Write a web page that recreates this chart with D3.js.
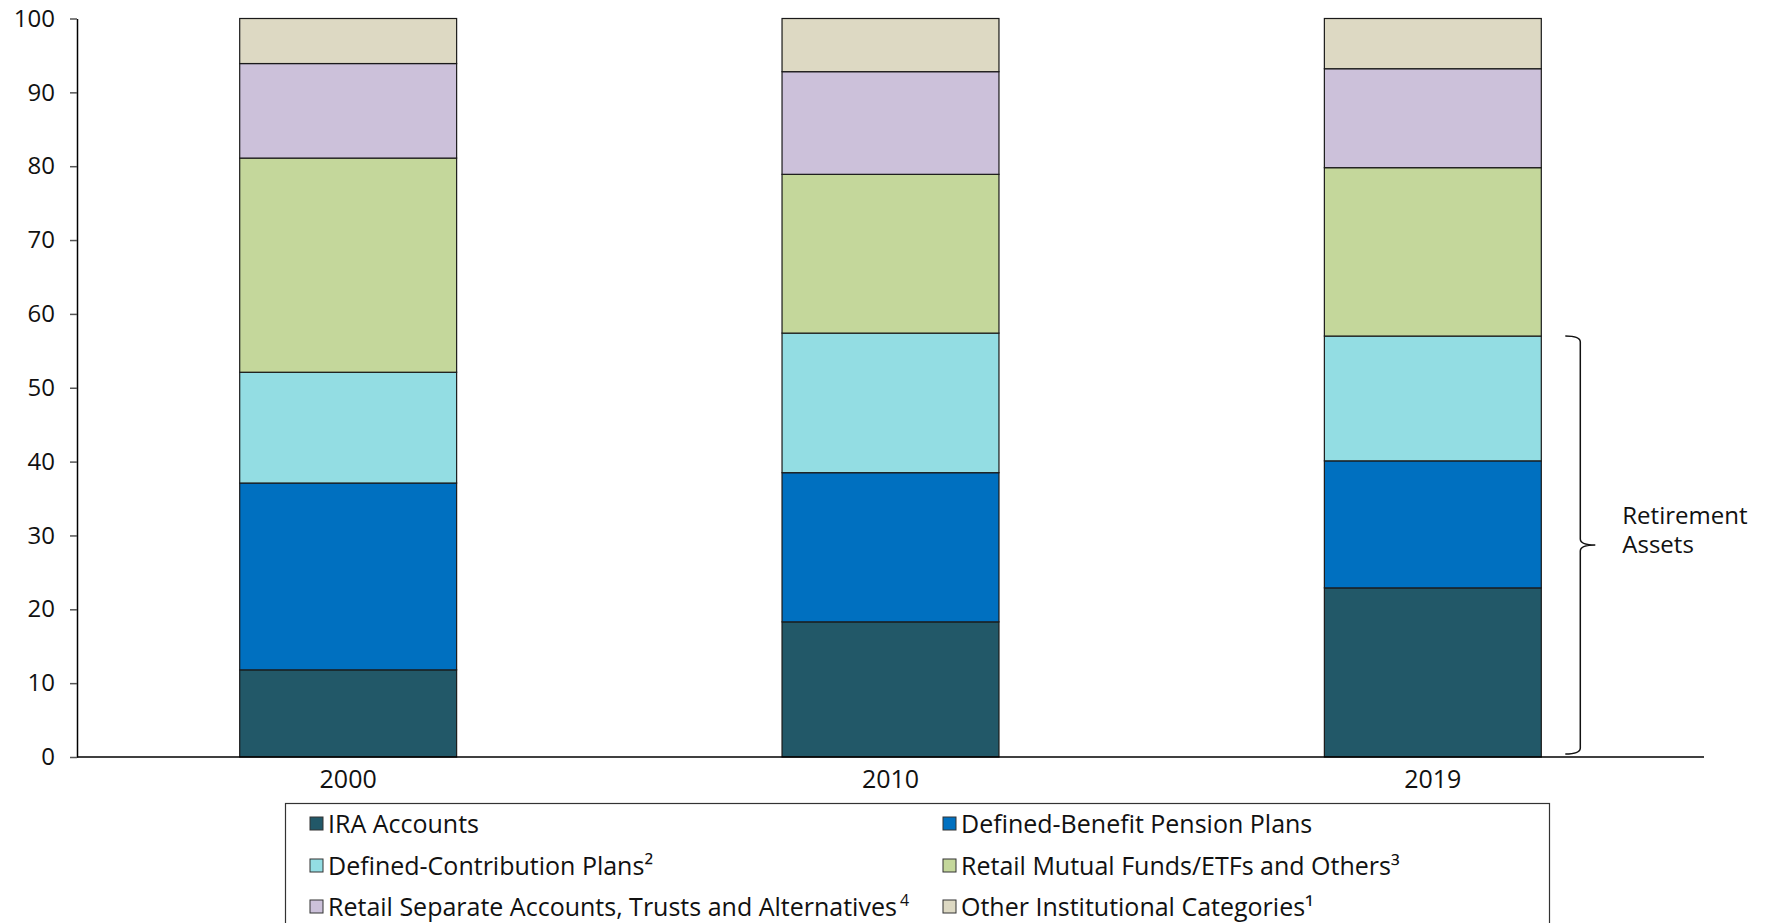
<!DOCTYPE html>
<html>
<head>
<meta charset="utf-8">
<script src="https://cdn.jsdelivr.net/npm/d3@7"></script>
<style>
  html, body { margin: 0; padding: 0; background: #fff; }
  svg { display: block; }
  text { font-family: "Open Sans", "Noto Sans", sans-serif; fill: #111; }
</style>
</head>
<body>
<div id="chart"></div>
<script>
// Categories (x axis)
const years = ["2000", "2010", "2019"];

// Series, stacked bottom to top (percent of total)
const seriesNames = [
    "IRA Accounts",
    "Defined-Benefit Pension Plans",
    "Defined-Contribution Plans",
    "Retail Mutual Funds/ETFs and Others",
    "Retail Separate Accounts, Trusts and Alternatives",
    "Other Institutional Categories"
];
const iraAccounts = [11.8, 18.3, 22.9];
const definedBenefit = [25.3, 20.2, 17.2];
const definedContribution = [15.0, 18.9, 16.9];
const retailMutualFunds = [29.0, 21.5, 22.8];
const retailSeparate = [12.8, 13.9, 13.4];
const otherInstitutional = [6.1, 7.2, 6.8];

const yTicks = [0, 10, 20, 30, 40, 50, 60, 70, 80, 90, 100];

// footnote marks shown after legend labels
const footnotes = ["", "", "²", "³", "4", "¹"];

const colors = ["#225868", "#0070c0", "#93dde3", "#c4d79b", "#ccc1da", "#ddd9c3"];

const allSeries = [iraAccounts, definedBenefit, definedContribution,
    retailMutualFunds, retailSeparate, otherInstitutional];

// build rows for d3.stack
let rows = years.map((yr, i) => {
    let r = { year: yr };
    seriesNames.forEach((s, j) => { r[s] = allSeries[j][i]; });
    return r;
});

const width = 1768, height = 923;
const margin = { top: 18.5, right: 64, bottom: 166, left: 77 };

let svg = d3.select("#chart").append("svg")
    .attr("width", width)
    .attr("height", height);

let x = d3.scaleBand()
    .domain(years)
    .range([margin.left, width - margin.right])
    .paddingInner(0.6)
    .paddingOuter(0.3);

let y = d3.scaleLinear()
    .domain([0, 100])
    .range([height - margin.bottom, margin.top]);

let stacked = d3.stack().keys(seriesNames)(rows);

// bars
let layers = svg.append("g").selectAll("g")
    .data(stacked)
    .join("g")
    .attr("fill", (d, i) => colors[i]);

layers.selectAll("rect")
    .data(d => d)
    .join("rect")
    .attr("x", d => x(d.data.year))
    .attr("y", d => y(d[1]))
    .attr("width", x.bandwidth())
    .attr("height", d => y(d[0]) - y(d[1]))
    .attr("stroke", "#1a1a1a")
    .attr("stroke-width", 1.2);

// y axis
let yAxis = svg.append("g")
    .attr("transform", `translate(${margin.left},0)`)
    .call(d3.axisLeft(y).tickValues(yTicks).tickSize(7).tickPadding(15).tickSizeOuter(0));
yAxis.select(".domain").attr("stroke", "#000").attr("stroke-width", 1.5);
yAxis.selectAll(".tick line").attr("stroke", "#555").attr("stroke-width", 1.5);
yAxis.selectAll(".tick text")
    .style("font-family", "'Open Sans', sans-serif")
    .style("font-size", "24px")
    .attr("fill", "#111");

// x axis
let xAxis = svg.append("g")
    .attr("transform", `translate(0,${y(0)})`)
    .call(d3.axisBottom(x).tickSize(0).tickPadding(13).tickSizeOuter(0));
xAxis.select(".domain")
    .attr("d", `M${margin.left},0H${width - margin.right}`)
    .attr("stroke", "#000").attr("stroke-width", 1.5);
xAxis.selectAll(".tick text")
    .style("font-family", "'Open Sans', sans-serif")
    .style("font-size", "25px")
    .attr("fill", "#111");

// brace for retirement assets on the last bar
let last = years.length - 1;
let braceTop = y(iraAccounts[last] + definedBenefit[last] + definedContribution[last]);
let braceBot = y(0) - 3;
let braceMid = (braceTop + braceBot) / 2;
let bx0 = x(years[last]) + x.bandwidth() + 24;
let bx1 = bx0 + 15;
let bx2 = bx1 + 15;
svg.append("path")
    .attr("d", `M${bx0},${braceTop} Q${bx1},${braceTop} ${bx1},${braceTop + 6}
                L${bx1},${braceMid - 6} Q${bx1},${braceMid} ${bx2},${braceMid}
                Q${bx1},${braceMid} ${bx1},${braceMid + 6}
                L${bx1},${braceBot - 6} Q${bx1},${braceBot} ${bx0},${braceBot}`)
    .attr("fill", "none")
    .attr("stroke", "#111")
    .attr("stroke-width", 1.5);

let braceLabel = svg.append("text")
    .attr("x", bx2 + 27)
    .attr("y", braceMid - 21)
    .style("font-size", "24px");
braceLabel.append("tspan").attr("x", bx2 + 27).attr("dy", 0).text("Retirement");
braceLabel.append("tspan").attr("x", bx2 + 27).attr("dy", 29).text("Assets");

// legend
let legend = svg.append("g");
legend.append("rect")
    .attr("x", 285.5)
    .attr("y", 803.5)
    .attr("width", 1264)
    .attr("height", 160)
    .attr("fill", "#fff")
    .attr("stroke", "#333")
    .attr("stroke-width", 1.2);

let cols = [310, 943];
let rowY = [824, 866, 907];
let items = legend.selectAll(".item")
    .data(seriesNames)
    .join("g")
    .attr("class", "item")
    .attr("transform", (d, i) => `translate(${cols[i % 2]},${rowY[Math.floor(i / 2)]})`);

items.append("rect")
    .attr("x", 0)
    .attr("y", -7)
    .attr("width", 13)
    .attr("height", 13)
    .attr("fill", (d, i) => colors[i])
    .attr("stroke", "#333")
    .attr("stroke-width", 1);

let labels = items.append("text")
    .attr("x", 18)
    .attr("y", 0)
    .attr("dy", "0.35em")
    .style("font-size", "25px");
labels.append("tspan").text(d => d);
labels.filter((d, i) => footnotes[i] !== "" && footnotes[i] !== "4")
    .append("tspan").text((d) => footnotes[seriesNames.indexOf(d)]);
labels.filter((d, i) => footnotes[i] === "4")
    .append("tspan")
    .attr("dx", 3)
    .attr("dy", -10)
    .style("font-size", "16px")
    .text("4");
</script>
</body>
</html>
